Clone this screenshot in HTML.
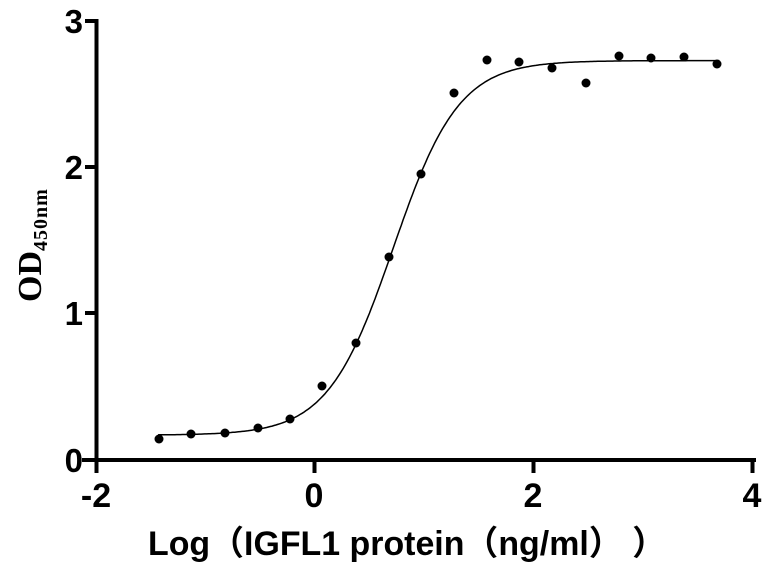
<!DOCTYPE html>
<html><head><meta charset="utf-8"><style>body{margin:0;background:#fff}svg{display:block}</style></head>
<body>
<svg id="s" width="773" height="574" xmlns="http://www.w3.org/2000/svg" font-family="Liberation Sans, Arial, sans-serif" font-weight="bold">
<g stroke="#000" stroke-width="4" fill="none">
<line x1="96.5" y1="19" x2="96.5" y2="462"/>
<line x1="82" y1="460" x2="756" y2="460"/>
<line x1="85" y1="21" x2="97" y2="21"/>
<line x1="85" y1="167" x2="97" y2="167"/>
<line x1="85" y1="313" x2="97" y2="313"/>
<line x1="96.5" y1="460" x2="96.5" y2="473"/>
<line x1="314.5" y1="460" x2="314.5" y2="473"/>
<line x1="533.5" y1="460" x2="533.5" y2="473"/>
<line x1="752.5" y1="460" x2="752.5" y2="473"/>
</g>
<g font-size="33" text-anchor="end">
<text x="83" y="33">3</text><text x="83" y="179">2</text><text x="83" y="325">1</text><text x="83" y="472">0</text>
</g>
<g font-size="34" text-anchor="middle">
<text x="96" y="507">-2</text><text x="314" y="507">0</text><text x="533" y="507">2</text><text x="752" y="507">4</text>
</g>
<text x="148" y="555" font-size="34" textLength="518" lengthAdjust="spacingAndGlyphs" font-family="Liberation Sans, 'Noto Sans CJK SC', sans-serif">Log（IGFL1 protein（ng/ml） ）</text>
<text transform="translate(41,302) rotate(-90)" font-family="Liberation Serif, serif" font-size="34">OD<tspan font-size="20" dy="6" letter-spacing="1">450nm</tspan></text>
<path id="c" fill="none" stroke="#000" stroke-width="1.5"/>
<g id="p" fill="#000"></g>
</svg>
<script>
var X=function(v){return 314.5+v*109.4},Y=function(v){return 460-v*146.3};
var d="";for(var i=0;i<=300;i++){var x=-1.43+i*(3.7+1.43)/300;var y=0.17+2.56/(1+Math.pow(10,(0.72-x)*1.45));d+=(i?"L":"M")+X(x).toFixed(1)+","+Y(y).toFixed(1);}
document.getElementById("c").setAttribute("d",d);
var pts=[[159,439],[191,434],[225,433],[258,428],[290,419],[322,386],[356,343],[389,257],[421,174],[454,93],[487,60],[519,62],[552,68],[586,83],[619,56],[651,58],[684,57],[717,64]];
var g=document.getElementById("p"),h="";pts.forEach(function(p){h+='<circle cx="'+p[0]+'" cy="'+p[1]+'" r="4.5"/>';});g.innerHTML=h;
</script>
</body></html>
